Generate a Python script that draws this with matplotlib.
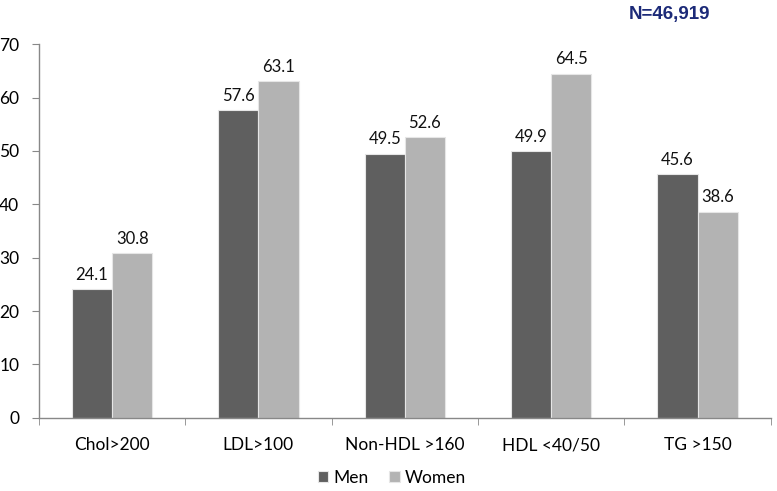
import matplotlib
matplotlib.use("Agg")
import matplotlib.pyplot as plt
import numpy as np

categories = ["Chol>200", "LDL>100", "Non-HDL >160", "HDL <40/50", "TG >150"]
men = [24.1, 57.6, 49.5, 49.9, 45.6]
women = [30.8, 63.1, 52.6, 64.5, 38.6]
series_names = ["Men", "Women"]
title_text = "N=46,919"

plt.rcParams['font.family'] = ['Lato', 'DejaVu Sans']

fig = plt.figure(figsize=(7.77, 4.91), dpi=100)
ax = fig.add_axes([0.050, 0.149, 0.942, 0.761])

x = np.arange(len(categories))
w = 0.275
c_men = "#5f5f5f"
c_women = "#b3b3b3"
b1 = ax.bar(x - w/2, men, w, color=c_men, edgecolor="#e6e6e6", linewidth=0.8, label=series_names[0])
b2 = ax.bar(x + w/2, women, w, color=c_women, edgecolor="#e6e6e6", linewidth=0.8, label=series_names[1])

for bars, vals in ((b1, men), (b2, women)):
    for r, v in zip(bars, vals):
        ax.text(r.get_x() + r.get_width()/2, v + 1.2, f"{v:.1f}", ha="center", va="bottom",
                fontsize=12, color="#111111")

ax.set_xlim(-0.5, len(categories) - 0.5)
ax.set_ylim(0, 70)
ax.set_yticks(range(0, 71, 10))
ax.set_xticks(x)
ax.set_xticklabels(categories, fontsize=12.5)
ax.set_xticks(np.arange(-0.5, len(categories), 1.0), minor=True)
ax.tick_params(axis='x', which='major', length=0, pad=14)
ax.tick_params(axis='x', which='minor', length=5, color="#888888", direction='out')
ax.tick_params(axis='y', labelsize=12.5, length=5, color="#888888", pad=9)
for s in ("top", "right"):
    ax.spines[s].set_visible(False)
for s in ("left", "bottom"):
    ax.spines[s].set_color("#888888")
    ax.spines[s].set_linewidth(1.0)

fig.legend(handles=[b1, b2], labels=series_names, loc="center", bbox_to_anchor=(392/777, 1 - 478/491),
           ncol=2, frameon=False, fontsize=12.5, handlelength=0.6, handleheight=0.6,
           handletextpad=0.3, columnspacing=1.2)

fig.text(670/777, 1 - 14/491, title_text, ha="center", va="center", fontsize=13.5,
         fontweight="bold", color="#1c2a78", family=["Liberation Sans", "DejaVu Sans"])

fig.savefig("out.png", dpi=100)
